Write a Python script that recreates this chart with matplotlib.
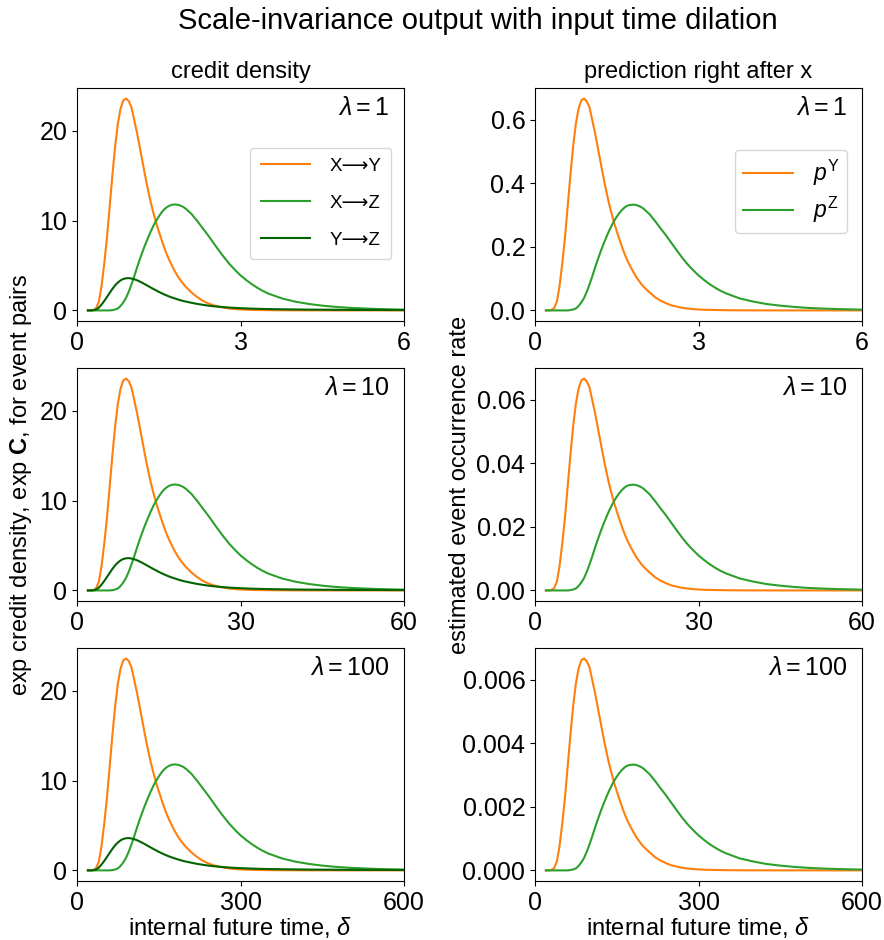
import matplotlib
matplotlib.use("Agg")
import numpy as np
import matplotlib.pyplot as plt

plt.rcParams["font.family"] = ["Liberation Sans", "DejaVu Sans"]
plt.rcParams["mathtext.fontset"] = "custom"
plt.rcParams["mathtext.rm"] = "Liberation Sans"
plt.rcParams["mathtext.it"] = "Liberation Sans:italic"
plt.rcParams["mathtext.bf"] = "Liberation Sans:bold"

# internal future time for lambda = 1
delta = [0.2, 0.25, 0.3, 0.35, 0.4, 0.45, 0.5, 0.55, 0.6, 0.65,
         0.7, 0.75, 0.8, 0.85, 0.9, 0.95, 1.0, 1.05, 1.1, 1.15,
         1.2, 1.25, 1.3, 1.35, 1.4, 1.45, 1.5, 1.55, 1.6, 1.65,
         1.7, 1.75, 1.8, 1.85, 1.9, 1.95, 2.0,
         2.1, 2.2, 2.3, 2.4, 2.5, 2.6, 2.7, 2.8, 2.9, 3.0,
         3.1, 3.2, 3.3, 3.4, 3.5,
         3.75, 4.0, 4.25, 4.5, 4.75, 5.0, 5.25, 5.5, 5.75, 6.0]

# exp credit density for event pairs
credit_xy = [0.0, 0.0, 0.05, 0.25, 0.95, 2.7, 5.2, 8.1, 11.6, 15.1,
             18.3, 20.8, 22.5, 23.4, 23.6, 23.3, 22.6, 21.2, 19.8, 18.2,
             16.6, 15.0, 13.5, 12.1, 10.9, 9.8, 8.8, 7.9, 7.0, 6.2,
             5.5, 4.9, 4.3, 3.8, 3.35, 2.95, 2.6,
             2.0, 1.5, 1.1, 0.8, 0.58, 0.42, 0.3, 0.21, 0.15, 0.11,
             0.08, 0.06, 0.045, 0.035, 0.025,
             0.012, 0.006, 0.003, 0.001, 0.0, 0.0, 0.0, 0.0, 0.0, 0.0]
credit_xz = [0.0, 0.0, 0.0, 0.0, 0.0, 0.0, 0.0, 0.0, 0.0, 0.03,
             0.1, 0.22, 0.5, 0.9, 1.4, 2.1, 2.9, 3.8, 4.75, 5.65,
             6.5, 7.3, 8.05, 8.75, 9.4, 9.95, 10.45, 10.9, 11.25, 11.5,
             11.68, 11.77, 11.8, 11.76, 11.66, 11.52, 11.3,
             10.75, 10.0, 9.2, 8.4, 7.55, 6.7, 5.9, 5.15, 4.5, 3.9,
             3.4, 2.95, 2.55, 2.2, 1.9,
             1.35, 0.98, 0.72, 0.53, 0.39, 0.29, 0.22, 0.16, 0.12, 0.09]
credit_yz = [0.0, 0.0, 0.02, 0.1, 0.3, 0.65, 1.05, 1.5, 1.95, 2.4,
             2.8, 3.1, 3.35, 3.5, 3.58, 3.6, 3.55, 3.47, 3.36, 3.22,
             3.07, 2.9, 2.73, 2.56, 2.39, 2.23, 2.07, 1.92, 1.78, 1.65,
             1.53, 1.42, 1.32, 1.22, 1.13, 1.05, 0.98,
             0.85, 0.73, 0.63, 0.54, 0.47, 0.41, 0.36, 0.31, 0.28, 0.25,
             0.22, 0.2, 0.18, 0.165, 0.15,
             0.125, 0.105, 0.09, 0.08, 0.07, 0.062, 0.055, 0.05, 0.045, 0.04]

# prediction right after x (estimated event occurrence rate, lambda = 1)
p_y = [0.0, 0.0, 0.001, 0.007, 0.027, 0.076, 0.147, 0.229, 0.328, 0.427,
       0.517, 0.588, 0.636, 0.661, 0.667, 0.658, 0.639, 0.599, 0.560, 0.514,
       0.469, 0.424, 0.382, 0.342, 0.308, 0.277, 0.249, 0.223, 0.198, 0.175,
       0.155, 0.138, 0.122, 0.107, 0.095, 0.083, 0.073,
       0.057, 0.042, 0.031, 0.023, 0.016, 0.012, 0.008, 0.006, 0.004, 0.003,
       0.002, 0.0017, 0.0013, 0.001, 0.0007,
       0.0003, 0.0002, 0.0001, 0.0, 0.0, 0.0, 0.0, 0.0, 0.0, 0.0]
p_z = [0.0, 0.0, 0.0, 0.0, 0.0, 0.0, 0.0, 0.0, 0.0, 0.001,
       0.003, 0.006, 0.014, 0.025, 0.039, 0.059, 0.082, 0.107, 0.134, 0.159,
       0.183, 0.206, 0.227, 0.247, 0.265, 0.281, 0.295, 0.307, 0.317, 0.325,
       0.330, 0.332, 0.333, 0.332, 0.329, 0.325, 0.319,
       0.303, 0.282, 0.259, 0.237, 0.213, 0.189, 0.166, 0.145, 0.127, 0.110,
       0.096, 0.083, 0.072, 0.062, 0.054,
       0.038, 0.028, 0.020, 0.015, 0.011, 0.008, 0.006, 0.0045, 0.0034, 0.0025]

lambdas = [1, 10, 100]
x_ticks = [[0, 3, 6], [0, 30, 60], [0, 300, 600]]

fig = plt.figure(figsize=(8.84, 9.4), dpi=100)
col_left = [0.0871, 0.6052]
row_bottom = [0.6585, 0.3606, 0.0628]
w, h = 0.370, 0.248

d = np.array(delta)
for i, lam in enumerate(lambdas):
    # left column: credit density
    ax = fig.add_axes([col_left[0], row_bottom[i], w, h])
    ax.plot(d * lam, credit_xy, color="#ff7f0e", lw=1.5, label="X\u27f6Y")
    ax.plot(d * lam, credit_xz, color="#2ca02c", lw=1.5, label="X\u27f6Z")
    ax.plot(d * lam, credit_yz, color="darkgreen", lw=1.5, label="Y\u27f6Z")
    ax.set_xlim(0, 6 * lam)
    ax.set_xticks(x_ticks[i])
    ax.set_yticks([0, 10, 20])
    ax.tick_params(labelsize=18)
    ax.text(0.955, 0.965, "$\\lambda = %d$" % lam, transform=ax.transAxes,
            ha="right", va="top", fontsize=18)
    if i == 0:
        ax.set_title("credit density", fontsize=17, pad=7)
        ax.legend(loc="upper right", bbox_to_anchor=(0.99, 0.784), fontsize=13.5,
                  handlelength=2.65, handletextpad=1.0, labelspacing=1.05,
                  borderpad=0.55)
    if i == 1:
        ax.set_ylabel("exp credit density, exp $\\mathbf{C}$, for event pairs", fontsize=17)
    if i == 2:
        ax.set_xlabel("internal future time, $\\delta$", fontsize=17, labelpad=0)

    # right column: prediction right after x
    ax = fig.add_axes([col_left[1], row_bottom[i], w, h])
    ax.plot(d * lam, np.array(p_y) / lam, color="#ff7f0e", lw=1.5, label="$p^{\\mathrm{Y}}$")
    ax.plot(d * lam, np.array(p_z) / lam, color="#2ca02c", lw=1.5, label="$p^{\\mathrm{Z}}$")
    ax.set_xlim(0, 6 * lam)
    ax.set_xticks(x_ticks[i])
    ax.set_yticks(np.array([0.0, 0.2, 0.4, 0.6]) / lam)
    ax.tick_params(labelsize=18)
    ax.text(0.955, 0.965, "$\\lambda = %d$" % lam, transform=ax.transAxes,
            ha="right", va="top", fontsize=18)
    if i == 0:
        ax.set_title("prediction right after x", fontsize=17, pad=7)
        ax.legend(loc="upper right", bbox_to_anchor=(0.99, 0.784), fontsize=16.5,
                  handlelength=2.2, handletextpad=0.85, labelspacing=0.3,
                  borderpad=0.35)
    if i == 1:
        ax.set_ylabel("estimated event occurrence rate", fontsize=17)
    if i == 2:
        ax.set_xlabel("internal future time, $\\delta$", fontsize=17, labelpad=0)

fig.suptitle("Scale-invariance output with input time dilation", fontsize=21,
             x=0.54, y=0.993)
fig.savefig("out.png", dpi=100)
